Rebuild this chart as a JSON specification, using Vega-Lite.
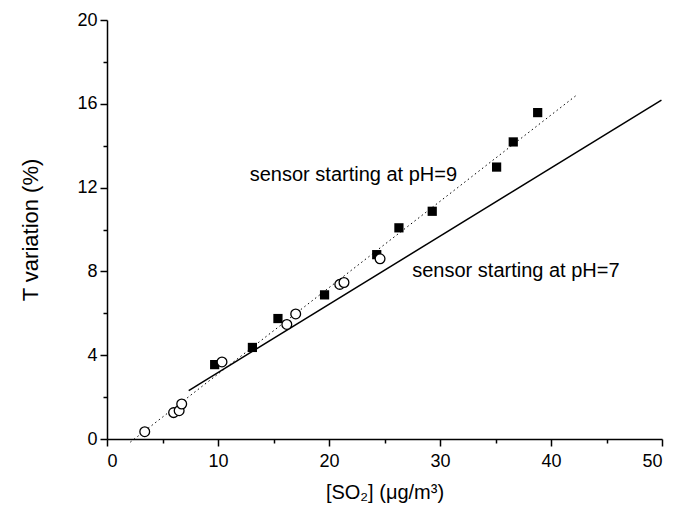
{
  "$schema": "https://vega.github.io/schema/vega-lite/v6.json",
  "autosize": "none",
  "width": 555,
  "height": 419,
  "padding": {"left": 107, "top": 20, "right": 11, "bottom": 69},
  "background": "white",
  "config": {
    "view": {"stroke": null},
    "font": "Liberation Sans",
    "axis": {
      "grid": false,
      "domainColor": "black",
      "domainWidth": 1.5,
      "tickColor": "black",
      "tickWidth": 1.5,
      "labelColor": "black",
      "labelFont": "Liberation Sans",
      "labelFontSize": 18,
      "titleColor": "black",
      "titleFont": "Liberation Sans",
      "titleFontWeight": "normal"
    }
  },
  "datasets": {
    "ph9": [
      {"x": 9.7, "y": 3.55},
      {"x": 13.1, "y": 4.37},
      {"x": 15.4, "y": 5.75},
      {"x": 19.6, "y": 6.88},
      {"x": 24.3, "y": 8.8},
      {"x": 26.3, "y": 10.08},
      {"x": 29.3, "y": 10.87},
      {"x": 35.1, "y": 12.98},
      {"x": 36.6, "y": 14.18},
      {"x": 38.8, "y": 15.58}
    ],
    "ph7": [
      {"x": 3.4, "y": 0.35},
      {"x": 6.0, "y": 1.26},
      {"x": 6.5, "y": 1.35},
      {"x": 6.73, "y": 1.67},
      {"x": 10.36, "y": 3.68},
      {"x": 16.2, "y": 5.47},
      {"x": 17.0, "y": 5.97},
      {"x": 20.97, "y": 7.38},
      {"x": 21.35, "y": 7.47},
      {"x": 24.6, "y": 8.6}
    ],
    "fit9": [
      {"x": 2.1, "y": -0.15},
      {"x": 42.25, "y": 16.39}
    ],
    "fit7": [
      {"x": 7.36, "y": 2.31},
      {"x": 49.95, "y": 16.18}
    ],
    "labels": [
      {"x": 12.86, "y": 12.3, "text": "sensor starting at pH=9"},
      {"x": 27.5, "y": 7.75, "text": "sensor starting at pH=7"}
    ]
  },
  "encoding": {
    "x": {
      "field": "x",
      "type": "quantitative",
      "scale": {"domain": [0, 50], "nice": false, "zero": false},
      "axis": {
        "title": "[SO₂] (μg/m³)",
        "titleFontSize": 20,
        "titlePadding": 12,
        "values": [0, 5, 10, 15, 20, 25, 30, 35, 40, 45, 50],
        "labelExpr": "datum.value % 10 === 0 ? datum.label : ''",
        "tickSize": {"condition": {"test": "datum.value % 10 === 0", "value": 7}, "value": 4},
        "labelPadding": 6
      }
    },
    "y": {
      "field": "y",
      "type": "quantitative",
      "scale": {"domain": [0, 20], "nice": false, "zero": false},
      "axis": {
        "title": "T variation (%)",
        "titleFontSize": 22,
        "titlePadding": 34,
        "values": [0, 2, 4, 6, 8, 10, 12, 14, 16, 18, 20],
        "labelExpr": "datum.value % 4 === 0 ? datum.label : ''",
        "tickSize": {"condition": {"test": "datum.value % 4 === 0", "value": 7}, "value": 4},
        "labelPadding": 3
      }
    }
  },
  "layer": [
    {
      "data": {"name": "fit9"},
      "mark": {"type": "line", "color": "black", "strokeWidth": 1, "strokeDash": [1.5, 3], "clip": false},
      "encoding": {}
    },
    {
      "data": {"name": "fit7"},
      "mark": {"type": "line", "color": "black", "strokeWidth": 1.5},
      "encoding": {}
    },
    {
      "data": {"name": "ph9"},
      "mark": {"type": "point", "shape": "square", "filled": true, "color": "black", "size": 85, "opacity": 1}
    },
    {
      "data": {"name": "ph7"},
      "mark": {"type": "point", "shape": "circle", "filled": false, "fill": "white", "stroke": "black", "strokeWidth": 1.3, "size": 95, "opacity": 1, "fillOpacity": 1}
    },
    {
      "data": {"name": "labels"},
      "mark": {"type": "text", "align": "left", "baseline": "alphabetic", "fontSize": 20, "font": "Liberation Sans", "color": "black"},
      "encoding": {"text": {"field": "text"}}
    }
  ]
}
